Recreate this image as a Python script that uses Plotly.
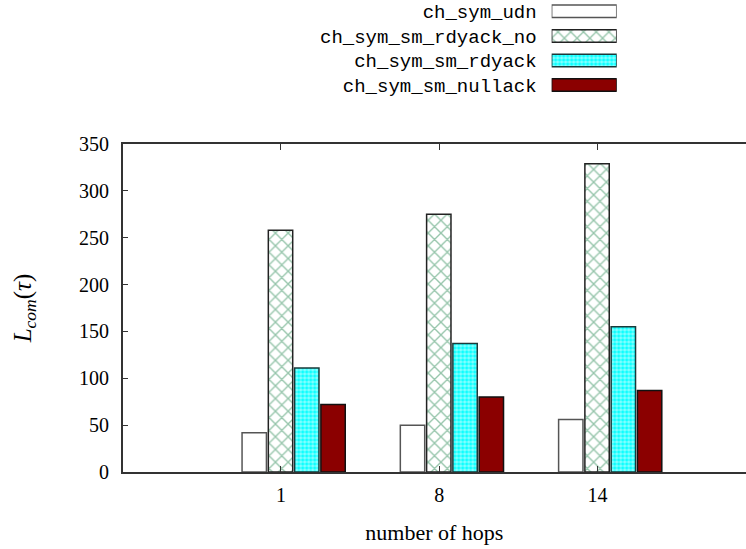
import plotly.graph_objects as go

# ---- data ----
hops = ["1", "8", "14"]
series_names = ["ch_sym_udn", "ch_sym_sm_rdyack_no", "ch_sym_sm_rdyack", "ch_sym_sm_nullack"]
udn = [42, 50, 56]
rdyack_no = [258, 275, 329]
rdyack = [111, 137, 155]
nullack = [72, 80, 87]
y_tick_vals = [0, 50, 100, 150, 200, 250, 300, 350]

values = [udn, rdyack_no, rdyack, nullack]

# ---- styles ----
styles = [
    dict(color="white", line=dict(color="#555555", width=1.5)),
    dict(color="white", line=dict(color="#222222", width=1.5),
         pattern=dict(shape="x", fgcolor="#2e8b57", bgcolor="white", size=9, solidity=0.28)),
    dict(color="#00ffff", line=dict(color="#1a3a3a", width=1.5),
         pattern=dict(shape=".", fgcolor="white", bgcolor="#00ffff", size=4, solidity=0.6)),
    dict(color="#8b0000", line=dict(color="#111111", width=1.5)),
]
offsets = [-0.246, -0.080, 0.086, 0.252]
bar_width = 0.154

fig = go.Figure()
for name, vals, st, off in zip(series_names, values, styles, offsets):
    fig.add_trace(go.Bar(
        x=hops, y=vals, name=name, marker=st, width=bar_width, offset=off,
        showlegend=False, xaxis="x", yaxis="y",
    ))
    # legend key drawn as a one-unit horizontal bar on a small auxiliary axis
    fig.add_trace(go.Bar(
        x=[1], y=[name], orientation="h", marker=st, width=0.51,
        showlegend=False, xaxis="x2", yaxis="y2", hoverinfo="skip",
    ))

serif = "Liberation Serif"
axis_col = "#333333"

fig.update_layout(
    width=746, height=549,
    margin=dict(l=0, r=0, t=0, b=77, autoexpand=False),
    paper_bgcolor="white", plot_bgcolor="white",
    barmode="overlay", showlegend=False,
    font=dict(family=serif, size=20, color="black"),
    xaxis=dict(
        type="category", domain=[0.1645, 1.0], range=[-1, 2.938],
        showgrid=False, zeroline=False, automargin=False,
        showline=True, linecolor=axis_col, linewidth=1.5, mirror="ticks",
        ticks="inside", ticklen=6, tickcolor=axis_col, tickwidth=1.2,
        tickfont=dict(family=serif, size=20), ticklabelstandoff=4,
        title=dict(text="number of hops", font=dict(family=serif, size=22), standoff=20),
        anchor="y",
    ),
    yaxis=dict(
        domain=[0.0, 0.695], range=[0, 350], tickvals=y_tick_vals,
        showgrid=False, zeroline=False, automargin=False,
        showline=True, linecolor=axis_col, linewidth=1.5, mirror=False,
        ticks="inside", ticklen=6, tickcolor=axis_col, tickwidth=1.2,
        tickfont=dict(family=serif, size=20), ticklabelstandoff=8,
        title=dict(text="<i>L</i><sub><i>com</i></sub>(<i>τ</i>)",
                   font=dict(family=serif, size=25), standoff=40),
        anchor="x",
    ),
    xaxis2=dict(
        domain=[0.7395, 0.8267], range=[0, 1], visible=False, anchor="y2",
        fixedrange=True, automargin=False,
    ),
    yaxis2=dict(
        domain=[0.79, 1.0], type="category", categoryarray=series_names,
        categoryorder="array", range=[3.57, -0.46],
        showgrid=False, zeroline=False, showline=False, ticks="", automargin=False,
        tickfont=dict(family="Liberation Mono", size=19, color="black"),
        ticklabelstandoff=14, anchor="x2",
    ),
)

fig.write_html(
    "out.html",
    config={"displayModeBar": False},
    post_script="document.body.style.margin='0';document.body.style.overflow='hidden';",
)
